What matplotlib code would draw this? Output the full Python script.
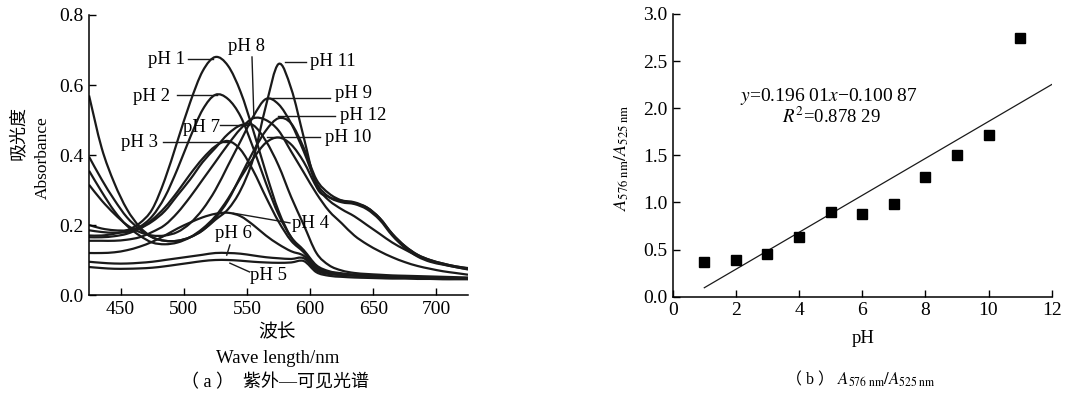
import numpy as np
import matplotlib
matplotlib.use("Agg")
import matplotlib.pyplot as plt
from matplotlib.path import Path
from matplotlib.patches import PathPatch

plt.rcParams['font.family'] = ['Liberation Serif', 'Noto Sans CJK SC']
plt.rcParams['mathtext.fontset'] = 'stix'

# ---- datos (a): espectros UV-Vis ----
wavelength = [425, 435, 445, 455, 465, 475, 485, 495, 505, 515, 525, 535, 545, 555, 565, 575,
              585, 595, 605, 615, 625, 635, 645, 655, 665, 675, 685, 695, 705, 715, 725]

ph1 = [0.17, 0.17, 0.175, 0.185, 0.205, 0.245, 0.33, 0.44, 0.55, 0.64, 0.68, 0.655, 0.58, 0.47, 0.35, 0.24,
       0.165, 0.125, 0.08, 0.065, 0.06, 0.057, 0.055, 0.053, 0.052, 0.051, 0.05, 0.049, 0.048, 0.047, 0.046]
ph2 = [0.2, 0.19, 0.185, 0.185, 0.195, 0.225, 0.28, 0.36, 0.45, 0.53, 0.572, 0.56, 0.51, 0.42, 0.32, 0.23,
       0.165, 0.128, 0.085, 0.068, 0.062, 0.058, 0.056, 0.054, 0.053, 0.052, 0.051, 0.05, 0.049, 0.048, 0.047]
ph3 = [0.165, 0.165, 0.168, 0.175, 0.19, 0.215, 0.25, 0.295, 0.345, 0.39, 0.425, 0.44, 0.415, 0.355, 0.28, 0.21,
       0.155, 0.122, 0.08, 0.066, 0.06, 0.057, 0.055, 0.053, 0.052, 0.051, 0.05, 0.049, 0.048, 0.047, 0.046]
ph4 = [0.12, 0.12, 0.122, 0.128, 0.138, 0.152, 0.17, 0.19, 0.207, 0.222, 0.232, 0.235, 0.225, 0.2, 0.17, 0.145,
       0.125, 0.112, 0.075, 0.063, 0.058, 0.056, 0.054, 0.053, 0.052, 0.051, 0.05, 0.049, 0.048, 0.047, 0.046]
ph5 = [0.08, 0.077, 0.075, 0.075, 0.076, 0.078, 0.082, 0.087, 0.092, 0.097, 0.1, 0.1, 0.098, 0.095, 0.093, 0.092,
       0.093, 0.097, 0.065, 0.055, 0.052, 0.05, 0.049, 0.048, 0.047, 0.047, 0.046, 0.046, 0.045, 0.045, 0.045]
ph6 = [0.095, 0.092, 0.09, 0.09, 0.092, 0.095, 0.1, 0.105, 0.11, 0.115, 0.12, 0.12, 0.118, 0.113, 0.108, 0.105,
       0.103, 0.105, 0.07, 0.06, 0.057, 0.055, 0.053, 0.052, 0.051, 0.05, 0.05, 0.049, 0.049, 0.048, 0.048]
ph7 = [0.185, 0.18, 0.178, 0.18, 0.19, 0.21, 0.24, 0.285, 0.33, 0.38, 0.42, 0.46, 0.485, 0.485, 0.44, 0.37,
       0.28, 0.2, 0.12, 0.085, 0.07, 0.063, 0.06, 0.058, 0.056, 0.055, 0.054, 0.053, 0.052, 0.051, 0.05]
ph8 = [0.155, 0.155, 0.155, 0.158, 0.165, 0.18, 0.2, 0.235, 0.28, 0.33, 0.38, 0.43, 0.475, 0.505, 0.5, 0.47,
       0.41, 0.35, 0.29, 0.24, 0.205, 0.17, 0.145, 0.125, 0.108, 0.094, 0.083, 0.075, 0.068, 0.063, 0.058]
ph9 = [0.315, 0.27, 0.232, 0.2, 0.18, 0.17, 0.17, 0.18, 0.205, 0.245, 0.3, 0.37, 0.44, 0.51, 0.56, 0.545,
       0.49, 0.41, 0.32, 0.28, 0.265, 0.26, 0.245, 0.215, 0.17, 0.135, 0.11, 0.095, 0.087, 0.08, 0.074]
ph10 = [0.355, 0.295, 0.24, 0.198, 0.17, 0.15, 0.145, 0.15, 0.165, 0.19, 0.225, 0.275, 0.335, 0.39, 0.435, 0.45,
        0.43, 0.38, 0.31, 0.27, 0.245, 0.225, 0.2, 0.175, 0.15, 0.13, 0.112, 0.098, 0.088, 0.08, 0.073]
ph11 = [0.395, 0.33, 0.272, 0.222, 0.188, 0.165, 0.155, 0.155, 0.165, 0.185, 0.215, 0.245, 0.3, 0.39, 0.54, 0.66,
        0.59, 0.45, 0.31, 0.28, 0.27, 0.265, 0.25, 0.22, 0.175, 0.14, 0.115, 0.1, 0.09, 0.082, 0.077]
ph12 = [0.57, 0.42, 0.32, 0.245, 0.195, 0.165, 0.155, 0.155, 0.165, 0.185, 0.22, 0.27, 0.34, 0.41, 0.47, 0.505,
        0.49, 0.42, 0.33, 0.29, 0.27, 0.262, 0.25, 0.22, 0.175, 0.14, 0.115, 0.1, 0.09, 0.082, 0.076]

spectra = [ph1, ph2, ph3, ph4, ph5, ph6, ph7, ph8, ph9, ph10, ph11, ph12]

# etiquetas: texto, posicion del texto, alineacion, linea guia
curve_labels = [
    ("pH 1", (501, 0.672), "right", [(503, 523), (0.675, 0.675)]),
    ("pH 8", (550, 0.709), "center", [(554, 555.5), (0.68, 0.506)]),
    ("pH 11", (600, 0.666), "left", [(580, 597), (0.666, 0.666)]),
    ("pH 2", (489, 0.566), "right", [(494.5, 526), (0.571, 0.571)]),
    ("pH 9", (619.5, 0.577), "left", [(565.5, 615.5), (0.563, 0.563)]),
    ("pH 12", (623.5, 0.514), "left", [(574.5, 619.5), (0.511, 0.511)]),
    ("pH 7", (528.5, 0.48), "right", [(528.5, 552), (0.486, 0.486)]),
    ("pH 3", (479.5, 0.437), "right", [(483.5, 536.5), (0.437, 0.437)]),
    ("pH 10", (611.5, 0.449), "left", [(565.5, 607.5), (0.451, 0.451)]),
    ("pH 4", (585.5, 0.203), "left", [(539, 584), (0.234, 0.206)]),
    ("pH 6", (539.5, 0.177), "center", [(536.5, 534), (0.143, 0.114)]),
    ("pH 5", (552.5, 0.057), "left", [(536.5, 552), (0.091, 0.066)]),
]

# ---- datos (b): A576/A525 frente a pH ----
ph_values = [1, 2, 3, 4, 5, 6, 7, 8, 9, 10, 11]
ratio = [0.371, 0.389, 0.453, 0.633, 0.899, 0.881, 0.987, 1.27, 1.5, 1.712, 2.749]
fit_slope = 0.19601
fit_intercept = -0.10087
fit_range = [1, 12]


def smooth_path(x, y):
    # trazo suave (Catmull-Rom como curvas Bezier) que pasa por los puntos leidos
    p = np.column_stack([x, y]).astype(float)
    ext = np.vstack([p[0], p, p[-1]])
    verts = [p[0]]
    codes = [Path.MOVETO]
    for i in range(len(p) - 1):
        p0, p1, p2, p3 = ext[i], ext[i + 1], ext[i + 2], ext[i + 3]
        verts += [p1 + (p2 - p0) / 6, p2 - (p3 - p1) / 6, p2]
        codes += [Path.CURVE4] * 3
    return Path(verts, codes)


fig = plt.figure(figsize=(10.69, 4.01), dpi=100)

# ---------------- (a) ----------------
ax1 = fig.add_axes([0.0833, 0.2643, 0.3545, 0.6983])
for s in spectra:
    ax1.add_patch(PathPatch(smooth_path(wavelength, s), fill=False, edgecolor="#1a1a1a",
                            lw=1.6, clip_on=True))
for text, (tx, ty), ha, (lx, ly) in curve_labels:
    ax1.plot(lx, ly, color="#1a1a1a", lw=1.0)
    ax1.text(tx, ty, text, ha=ha, va="center", fontsize=13.5)

ax1.set_xlim(425, 725)
ax1.set_ylim(0, 0.8)
ax1.set_xticks([450, 500, 550, 600, 650, 700])
ax1.set_yticks([0.0, 0.2, 0.4, 0.6, 0.8])
ax1.set_yticklabels(["0.0", "0.2", "0.4", "0.6", "0.8"])

fig.text(0.017, 0.668, "吸光度", rotation=90, ha="center", va="center", fontsize=13)
fig.text(0.040, 0.606, "Absorbance", rotation=90, ha="center", va="center", fontsize=12.5)
fig.text(0.259, 0.170, "波长", ha="center", va="center", fontsize=13.5)
fig.text(0.260, 0.107, "Wave length/nm", ha="center", va="center", fontsize=13.5)
fig.text(0.257, 0.045, "（ a ）  紫外—可见光谱", ha="center", va="center", fontsize=13)

# ---------------- (b) ----------------
ax2 = fig.add_axes([0.6293, 0.2601, 0.3545, 0.705])
fit_x = np.array(fit_range)
ax2.plot(fit_x, fit_slope * fit_x + fit_intercept, color="#1a1a1a", lw=0.9)
ax2.plot(ph_values, ratio, "s", color="black", ms=7.5)

ax2.set_xlim(0, 12)
ax2.set_ylim(0, 3.0)
ax2.set_xticks(range(0, 13, 2))
ax2.set_yticks([0.0, 0.5, 1.0, 1.5, 2.0, 2.5, 3.0])
ax2.set_yticklabels(["0.0", "0.5", "1.0", "1.5", "2.0", "2.5", "3.0"])
ax2.text(2.13, 2.12, "$y$=0.196 01$x$−0.100 87", ha="left", va="center", fontsize=14)
ax2.text(3.46, 1.91, "$R^2$=0.878 29", ha="left", va="center", fontsize=13.5)

fig.text(0.582, 0.608, r"$A_{576\ \mathrm{nm}}/A_{525\ \mathrm{nm}}$", rotation=90,
         ha="center", va="center", fontsize=13)
fig.text(0.807, 0.157, "pH", ha="center", va="center", fontsize=13.5)
fig.text(0.780, 0.052, "（ b ）", ha="right", va="center", fontsize=11.5)
fig.text(0.783, 0.052, r"$A_{576\ \mathrm{nm}}/A_{525\ \mathrm{nm}}$", ha="left", va="center", fontsize=12)

for ax in (ax1, ax2):
    ax.spines["top"].set_visible(False)
    ax.spines["right"].set_visible(False)
    for sp in ("left", "bottom"):
        ax.spines[sp].set_linewidth(1.1)
    ax.tick_params(direction="in", length=5, width=1.0, labelsize=14, pad=4)

fig.savefig("out.png", dpi=100)
